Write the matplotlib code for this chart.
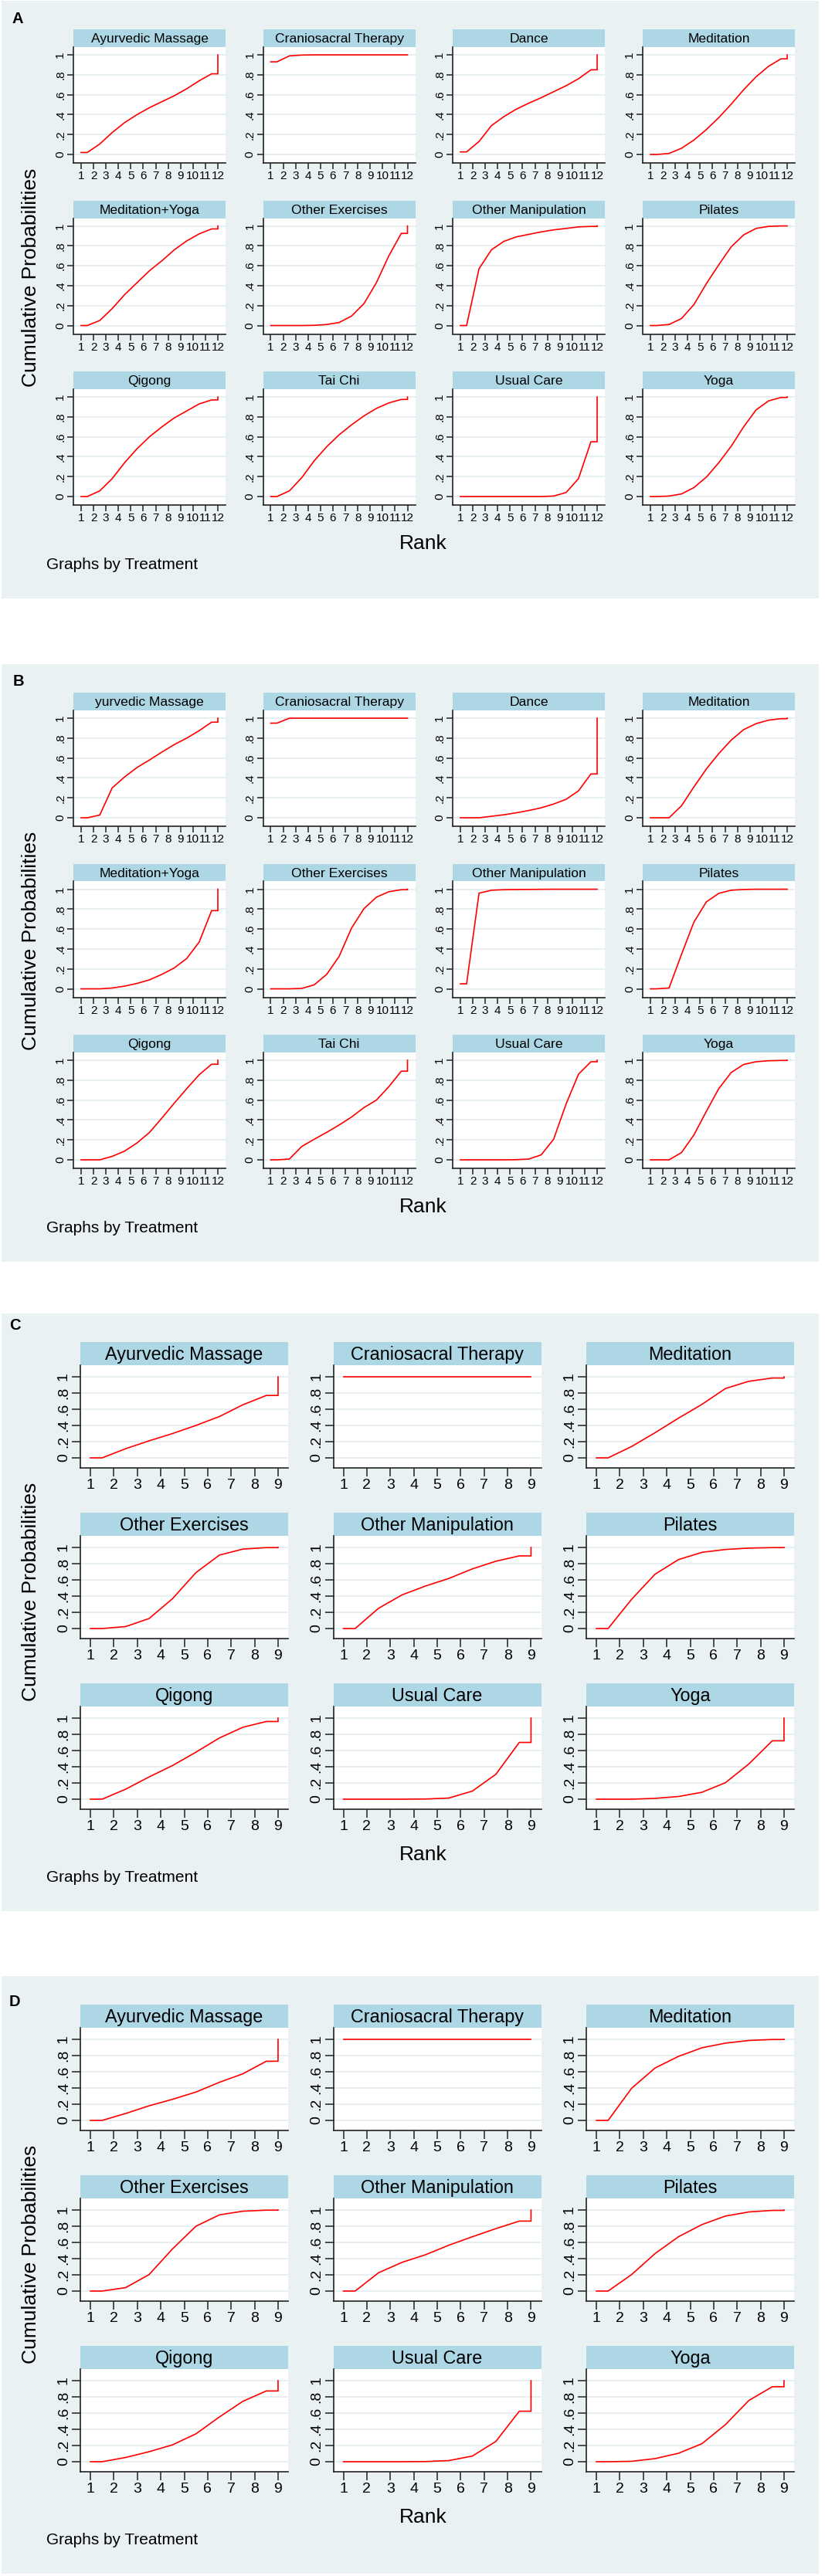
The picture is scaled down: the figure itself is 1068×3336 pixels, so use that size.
import matplotlib
matplotlib.use("Agg")
import matplotlib.pyplot as plt
from matplotlib.patches import Rectangle

plt.rcParams['font.family'] = ['Liberation Sans', 'DejaVu Sans']

# ---------------- DATA: cumulative ranking probabilities (rank 1..N) ----------------
TREAT_AB = ["Ayurvedic Massage", "Craniosacral Therapy", "Dance", "Meditation",
            "Meditation+Yoga", "Other Exercises", "Other Manipulation", "Pilates",
            "Qigong", "Tai Chi", "Usual Care", "Yoga"]
TREAT_B_TITLES = ["yurvedic Massage"] + TREAT_AB[1:]
TREAT_CD = ["Ayurvedic Massage", "Craniosacral Therapy", "Meditation",
            "Other Exercises", "Other Manipulation", "Pilates",
            "Qigong", "Usual Care", "Yoga"]
RANKS_AB = list(range(1, 13))
RANKS_CD = list(range(1, 10))
Y_TICKS = [0, 0.2, 0.4, 0.6, 0.8, 1.0]
Y_TICKLABELS = ["0", ".2", ".4", ".6", ".8", "1"]

# Panel A
A_ayurvedic = [0.02, 0.105, 0.22, 0.32, 0.40, 0.47, 0.53, 0.59, 0.66, 0.74, 0.81, 1.0]
A_craniosacral = [0.93, 0.99, 0.998, 1.0, 1.0, 1.0, 1.0, 1.0, 1.0, 1.0, 1.0, 1.0]
A_dance = [0.026, 0.13, 0.29, 0.38, 0.455, 0.515, 0.57, 0.63, 0.69, 0.76, 0.85, 1.0]
A_meditation = [0.0, 0.01, 0.062, 0.145, 0.25, 0.37, 0.505, 0.65, 0.78, 0.885, 0.96, 1.0]
A_med_yoga = [0.0, 0.05, 0.17, 0.31, 0.43, 0.55, 0.65, 0.76, 0.85, 0.92, 0.97, 1.0]
A_other_ex = [0.0, 0.0, 0.0, 0.002, 0.01, 0.03, 0.095, 0.22, 0.43, 0.70, 0.925, 1.0]
A_other_manip = [0.0, 0.57, 0.76, 0.845, 0.89, 0.915, 0.94, 0.96, 0.975, 0.99, 0.995, 1.0]
A_pilates = [0.0, 0.01, 0.07, 0.21, 0.42, 0.61, 0.79, 0.91, 0.975, 0.995, 1.0, 1.0]
A_qigong = [0.0, 0.057, 0.18, 0.34, 0.48, 0.60, 0.70, 0.79, 0.86, 0.93, 0.97, 1.0]
A_taichi = [0.0, 0.057, 0.19, 0.36, 0.50, 0.62, 0.72, 0.81, 0.885, 0.94, 0.975, 1.0]
A_usual = [0.0, 0.0, 0.0, 0.0, 0.0, 0.0, 0.0, 0.005, 0.04, 0.18, 0.55, 1.0]
A_yoga = [0.0, 0.005, 0.026, 0.09, 0.195, 0.34, 0.505, 0.70, 0.87, 0.96, 0.995, 1.0]

# Panel B
B_ayurvedic = [0.0, 0.027, 0.30, 0.41, 0.505, 0.58, 0.66, 0.735, 0.80, 0.875, 0.96, 1.0]
B_craniosacral = [0.95, 1.0, 1.0, 1.0, 1.0, 1.0, 1.0, 1.0, 1.0, 1.0, 1.0, 1.0]
B_dance = [0.0, 0.0, 0.015, 0.03, 0.05, 0.073, 0.10, 0.138, 0.185, 0.27, 0.44, 1.0]
B_meditation = [0.0, 0.0, 0.12, 0.31, 0.49, 0.645, 0.78, 0.885, 0.945, 0.98, 0.995, 1.0]
B_med_yoga = [0.0, 0.0, 0.008, 0.027, 0.054, 0.09, 0.145, 0.21, 0.305, 0.47, 0.785, 1.0]
B_other_ex = [0.0, 0.0, 0.004, 0.04, 0.145, 0.325, 0.61, 0.805, 0.92, 0.975, 0.995, 1.0]
B_other_manip = [0.05, 0.96, 0.99, 0.995, 0.997, 0.998, 0.999, 1.0, 1.0, 1.0, 1.0, 1.0]
B_pilates = [0.0, 0.008, 0.345, 0.67, 0.873, 0.958, 0.99, 0.997, 1.0, 1.0, 1.0, 1.0]
B_qigong = [0.0, 0.0, 0.035, 0.088, 0.17, 0.275, 0.42, 0.57, 0.715, 0.855, 0.96, 1.0]
B_taichi = [0.0, 0.008, 0.135, 0.207, 0.276, 0.35, 0.43, 0.525, 0.60, 0.735, 0.89, 1.0]
B_usual = [0.0, 0.0, 0.0, 0.0, 0.002, 0.008, 0.05, 0.207, 0.56, 0.86, 0.985, 1.0]
B_yoga = [0.0, 0.0, 0.073, 0.25, 0.487, 0.715, 0.877, 0.958, 0.985, 0.995, 0.998, 1.0]

# Panel C
C_ayurvedic = [0.0, 0.113, 0.21, 0.30, 0.40, 0.51, 0.655, 0.77, 1.0]
C_craniosacral = [1.0, 1.0, 1.0, 1.0, 1.0, 1.0, 1.0, 1.0, 1.0]
C_meditation = [0.0, 0.14, 0.31, 0.49, 0.66, 0.855, 0.945, 0.985, 1.0]
C_other_ex = [0.0, 0.024, 0.123, 0.368, 0.69, 0.906, 0.98, 0.998, 1.0]
C_other_manip = [0.0, 0.25, 0.415, 0.524, 0.618, 0.736, 0.83, 0.896, 1.0]
C_pilates = [0.0, 0.36, 0.67, 0.85, 0.94, 0.975, 0.992, 0.998, 1.0]
C_qigong = [0.0, 0.123, 0.274, 0.415, 0.58, 0.755, 0.887, 0.958, 1.0]
C_usual = [0.0, 0.0, 0.0, 0.002, 0.014, 0.10, 0.307, 0.70, 1.0]
C_yoga = [0.0, 0.0, 0.01, 0.033, 0.085, 0.203, 0.434, 0.72, 1.0]

# Panel D
D_ayurvedic = [0.0, 0.085, 0.18, 0.26, 0.35, 0.47, 0.575, 0.73, 1.0]
D_craniosacral = [1.0, 1.0, 1.0, 1.0, 1.0, 1.0, 1.0, 1.0, 1.0]
D_meditation = [0.0, 0.396, 0.646, 0.79, 0.896, 0.953, 0.986, 0.998, 1.0]
D_other_ex = [0.0, 0.042, 0.203, 0.52, 0.80, 0.94, 0.985, 0.998, 1.0]
D_other_manip = [0.0, 0.226, 0.354, 0.448, 0.566, 0.67, 0.77, 0.863, 1.0]
D_pilates = [0.0, 0.203, 0.462, 0.67, 0.82, 0.925, 0.976, 0.995, 1.0]
D_qigong = [0.0, 0.052, 0.123, 0.208, 0.344, 0.552, 0.745, 0.873, 1.0]
D_usual = [0.0, 0.0, 0.0, 0.002, 0.014, 0.07, 0.25, 0.623, 1.0]
D_yoga = [0.0, 0.005, 0.038, 0.104, 0.222, 0.457, 0.755, 0.925, 1.0]

A_SERIES = [A_ayurvedic, A_craniosacral, A_dance, A_meditation, A_med_yoga, A_other_ex,
            A_other_manip, A_pilates, A_qigong, A_taichi, A_usual, A_yoga]
B_SERIES = [B_ayurvedic, B_craniosacral, B_dance, B_meditation, B_med_yoga, B_other_ex,
            B_other_manip, B_pilates, B_qigong, B_taichi, B_usual, B_yoga]
C_SERIES = [C_ayurvedic, C_craniosacral, C_meditation, C_other_ex, C_other_manip,
            C_pilates, C_qigong, C_usual, C_yoga]
D_SERIES = [D_ayurvedic, D_craniosacral, D_meditation, D_other_ex, D_other_manip,
            D_pilates, D_qigong, D_usual, D_yoga]

# ---------------- STYLE / LAYOUT ----------------
W, H = 1068, 3336
BG = "#EAF1F3"
STRIP = "#ADD7E5"
GRID = "#E4ECEF"
RED = "#FF0000"

fig = plt.figure(figsize=(W / 100, H / 100), dpi=100)
fig.patch.set_facecolor("white")


def fbox(x, y, w, h):
    return [x / W, 1 - (y + h) / H, w / W, h / H]


def step_path(ranks, cum):
    # Stata-style cumulative rank line: flat to 1.5, midpoints, flat to N, jump to final
    n = len(ranks)
    xs = [ranks[0]] + [r + 0.5 for r in ranks[:-1]] + [ranks[-1], ranks[-1]]
    ys = [cum[0]] + list(cum[:-1]) + [cum[-2], cum[-1]]
    return xs, ys


LAYOUT_AB = dict(ncols=4, col_left=[95, 340.5, 586, 832], width=197, title_h=23,
                 plot_h=150, row_step=221.5, xlim=(0.38, 12.62), ylim=(-0.085, 1.078),
                 tick_fs=11, title_fs=12.6, tick_len=6, ylab_y=359, rank_y=704,
                 ranks=RANKS_AB, xpad=1.5, ypad=1.0)
LAYOUT_CD = dict(ncols=3, col_left=[104, 431.5, 759], width=269, title_h=30,
                 plot_h=133, row_step=221, xlim=(0.57, 9.43), ylim=(-0.124, 1.143),
                 tick_fs=14, title_fs=16.8, tick_len=8, ylab_y=361, rank_y=702,
                 ranks=RANKS_CD, xpad=2.0, ypad=1.5)

PANELS = [("A", 0, LAYOUT_AB, TREAT_AB, A_SERIES, (23, 25)),
          ("B", 859, LAYOUT_AB, TREAT_B_TITLES, B_SERIES, (24, 24)),
          ("C", 1700, LAYOUT_CD, TREAT_CD, C_SERIES, (19, 17)),
          ("D", 2558, LAYOUT_CD, TREAT_CD, D_SERIES, (19, 34))]

for letter, off, L, titles, series, lpos in PANELS:
    # panel background
    fig.add_artist(Rectangle((2 / W, 1 - (off + 775) / H), 1058 / W, 774 / H,
                             transform=fig.transFigure, facecolor=BG,
                             edgecolor="none", zorder=-10))
    fig.text(lpos[0] / W, 1 - (off + lpos[1]) / H, letter, fontsize=14.5,
             fontweight="bold", ha="center", va="center")
    for i, (name, cum) in enumerate(zip(titles, series)):
        r, c = divmod(i, L["ncols"])
        x0 = L["col_left"][c]
        ytop = off + 38 + r * L["row_step"]
        # strip
        sax = fig.add_axes(fbox(x0, ytop, L["width"], L["title_h"]))
        sax.set_facecolor(STRIP)
        sax.set_xticks([])
        sax.set_yticks([])
        for s in sax.spines.values():
            s.set_visible(False)
        sax.text(0.5, 0.45, name, ha="center", va="center", fontsize=L["title_fs"],
                 transform=sax.transAxes)
        # plot
        ax = fig.add_axes(fbox(x0, ytop + L["title_h"], L["width"], L["plot_h"]))
        ax.set_facecolor("white")
        xs, ys = step_path(L["ranks"], cum)
        ax.plot(xs, ys, color=RED, lw=1.2, solid_joinstyle="miter", zorder=3)
        ax.set_xlim(*L["xlim"])
        ax.set_ylim(*L["ylim"])
        ax.set_xticks(L["ranks"])
        ax.set_xticklabels([str(k) for k in L["ranks"]])
        ax.set_yticks(Y_TICKS)
        ax.set_yticklabels(Y_TICKLABELS, rotation=90, va="center")
        for yv in Y_TICKS:
            ax.axhline(yv, color=GRID, lw=1.2, zorder=1)
        ax.spines["top"].set_visible(False)
        ax.spines["right"].set_visible(False)
        for sp in ("left", "bottom"):
            ax.spines[sp].set_color("#222222")
            ax.spines[sp].set_linewidth(1.2)
        ax.tick_params(axis="x", length=L["tick_len"], width=1.1, color="#222222",
                       labelsize=L["tick_fs"], pad=L["xpad"])
        ax.tick_params(axis="y", length=L["tick_len"], width=1.1, color="#222222",
                       labelsize=L["tick_fs"], pad=L["ypad"])
    # axis titles and note
    fig.text(40 / W, 1 - (off + L["ylab_y"]) / H, "Cumulative Probabilities",
             rotation=90, fontsize=19, ha="center", va="center")
    fig.text(548 / W, 1 - (off + L["rank_y"]) / H, "Rank", fontsize=19,
             ha="center", va="center")
    fig.text(60 / W, 1 - (off + 731.5) / H, "Graphs by Treatment", fontsize=15,
             ha="left", va="center")

fig.savefig("out.png", dpi=100, facecolor="white")
